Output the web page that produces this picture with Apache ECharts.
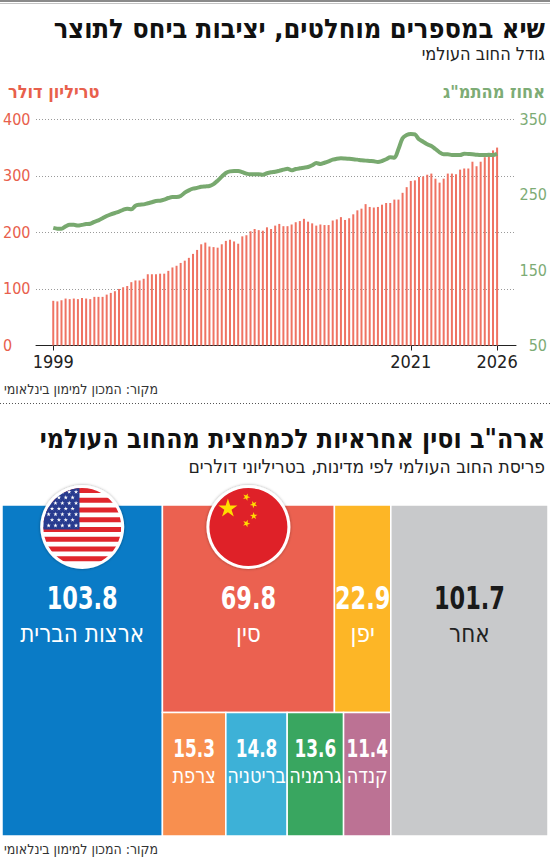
<!DOCTYPE html>
<html><head><meta charset="utf-8">
<script src="https://cdn.jsdelivr.net/npm/echarts@6/dist/echarts.min.js"></script>
<style>html,body{margin:0;padding:0;background:#fff}#c{width:550px;height:858px}</style>
</head><body><div id="c"></div>
<script>
// ---------- DATA ----------
const startYear = 1999;
const quarters = [];
for (let i = 0; i < 109; i++) quarters.push('Q' + (i % 4 + 1) + ' ' + (startYear + Math.floor(i / 4)));
// global debt, trillion USD (bars)
const debt = [79,78,80,83,82,83,82,84,83,82,86,86,86,90,93,96,100,103,105,112,
  115,115,118,126,126,126,127,127,132,138,141,146,150,155,162,169,179,182,175,174,
  173,179,185,187,184,180,193,195,202,206,204,203,209,206,212,215,211,211,214,218,
  220,224,219,216,212,214,213,213,221,223,227,222,225,232,239,242,250,245,244,245,
  249,252,252,258,258,270,280,291,292,298,299,302,304,295,288,295,304,304,303,311,
  313,313,325,317,325,333,338,345,350];
// debt as % of GDP (line)
const ratio = [206,205,205,208,210,210,209,210,211,211.5,214,216,218.7,221.7,224,225.7,227.5,230,231.4,230.6,
  235.4,236.7,237.2,238.6,240,241.6,242,243.4,245.6,247,247,248.3,252.7,255.8,258,259,260.5,261,261.5,264,
  268.6,274,278.8,281,281.4,281.4,280,277.9,277,277,277,276.5,278.4,279.7,280.5,281.8,283.2,284.5,282.3,284,
  285,285.8,286.7,289,292,290.7,292.4,294.3,296.4,297.8,298.3,298,297.6,297,296.5,295.6,295.2,294.7,294.3,293.4,
  294.7,297,299.6,299.1,310.6,324.8,329.2,330.5,330,323.4,320.3,316.8,314.6,310.6,306.2,303.6,303.6,302.6,302.6,302.6,
  304.4,304,303.6,303,302.6,302.6,303,302.6,304.4];
const xTickIdx = [0, 87, 108];
const xTickLabels = ['1999', '2021', '2026'];

const treeNames = ['ארצות הברית','סין','יפן','צרפת','בריטניה','גרמניה','קנדה','אחר'];
const treeValues = [103.8, 69.8, 22.9, 15.3, 14.8, 13.6, 11.4, 101.7];
// layout structure: columns -> rows -> item indices
const treeColumns = [[[0]], [[1, 2], [3, 4, 5, 6]], [[7]]];

// ---------- STYLE ----------
const treeColors = ['#0a7bc6','#eb6150','#fdb626','#f88f4f','#3db1d7','#39a660','#bc7294','#c8c9cb'];
const HEB = '"DejaVu Sans Condensed","DejaVu Sans",sans-serif';
const NUM = '"DejaVu Sans Condensed","DejaVu Sans",sans-serif';
const RED = '#e8604c', GREEN = '#7dac75';

// ---------- TREEMAP LAYOUT (slice & dice from values) ----------
const treeTotal = treeValues.reduce((a, b) => a + b, 0);
const treeItems = [];
let xc = 0;
treeColumns.forEach(col => {
  const colSum = col.flat().reduce((a, i) => a + treeValues[i], 0);
  let yc = 0;
  col.forEach(row => {
    const rowSum = row.reduce((a, i) => a + treeValues[i], 0);
    const h = rowSum / colSum;
    let xr = xc;
    row.forEach(i => {
      const w = treeValues[i] / rowSum * colSum;
      treeItems.push([xr, xr + w, yc, yc + h, treeValues[i], i]);
      xr += w;
    });
    yc += h;
  });
  xc += colSum;
});

function starPts(cx, cy, R, rot) {
  const pts = [], r = R * 0.382;
  for (let k = 0; k < 10; k++) {
    const a = -Math.PI / 2 + rot + k * Math.PI / 5;
    const rr = k % 2 ? r : R;
    pts.push([cx + rr * Math.cos(a), cy + rr * Math.sin(a)]);
  }
  return pts;
}
function ring(cx, cy, r) {
  return {type: 'circle', shape: {cx, cy, r: r + 3},
    style: {fill: '#fff', shadowBlur: 3, shadowColor: 'rgba(0,0,0,0.35)'}};
}
function usFlag(cx, cy, r) {
  const ch = [{type: 'rect', shape: {x: cx - r, y: cy - r, width: 2 * r, height: 2 * r}, style: {fill: '#fff'}}];
  const h = 2 * r / 16;
  for (let k = 0; k < 16; k += 2)
    ch.push({type: 'rect', shape: {x: cx - r, y: cy - r + k * h, width: 2 * r, height: h}, style: {fill: '#e0262d'}});
  const cw = 0.93 * r, chh = 8 * h + 0.5 * h;
  ch.push({type: 'rect', shape: {x: cx - r, y: cy - r, width: cw, height: chh}, style: {fill: '#283b8f'}});
  for (let row = 0; row < 7; row++) {
    const odd = row % 2;
    const n = odd ? 4 : 5;
    for (let c = 0; c < n; c++) {
      const sx = cx - r + 2 + (c + 0.5 + (odd ? 0.5 : 0)) * (cw - 2) / 5;
      const sy = cy - r + (row + 0.7) * chh / 7.4;
      ch.push({type: 'polygon', shape: {points: starPts(sx, sy, 2.3, 0)}, style: {fill: '#fff'}});
    }
  }
  return [ring(cx, cy, r), {type: 'group', clipPath: {type: 'circle', shape: {cx, cy, r}}, children: ch}];
}
function cnFlag(cx, cy, r) {
  const ch = [{type: 'circle', shape: {cx, cy, r}, style: {fill: '#df2128'}}];
  ch.push({type: 'polygon', shape: {points: starPts(cx - 20.5, cy - 18.5, 10, 0)}, style: {fill: '#ffdd00'}});
  [[-2, -30], [5.3, -22.5], [5.3, -11], [-2, -3.5]].forEach(o => {
    const a = Math.atan2(-18.5 - o[1], -20.5 - o[0]);
    ch.push({type: 'polygon', shape: {points: starPts(cx + o[0], cy + o[1], 3.9, a + Math.PI / 2)}, style: {fill: '#ffdd00'}});
  });
  return [ring(cx, cy, r), {type: 'group', children: ch}];
}

function stxt(text, x, y, font, fill, align, sx) {
  return {type: 'text', x, y, scaleX: sx || 1, silent: true,
    style: {text, x: 0, y: 0, font, fill,
      textAlign: align, textVerticalAlign: 'middle', align: align, verticalAlign: 'middle'}};
}

function renderTree(params, api) {
  const x0 = api.value(0), x1 = api.value(1), y0 = api.value(2), y1 = api.value(3);
  const val = api.value(4), idx = api.value(5);
  const p0 = api.coord([x0, y0]), p1 = api.coord([x1, y1]);
  const left = p0[0], top = p0[1], w = p1[0] - p0[0], h = p1[1] - p0[1];
  const cx = left + w / 2;
  const bottomRow = y0 > 0.001;
  const dark = idx === 7;
  const children = [{type: 'rect', shape: {x: left, y: top, width: w, height: h},
    style: {fill: treeColors[idx], stroke: '#fff', lineWidth: 1.5}}];
  const vy = top + (bottomRow ? 35 : 93);
  const ny = vy + (bottomRow ? 28 : 35);
  const vFont = bottomRow ? 'bold 25px ' + NUM : 'bold 32px ' + NUM;
  const nFont = bottomRow ? '22px ' + HEB : '25px ' + HEB;
  children.push(stxt(val.toFixed(1), cx, vy, vFont, dark ? '#1a1a1a' : '#fff', 'center', bottomRow ? 0.75 : 0.78));
  children.push(stxt(treeNames[idx], cx, ny, nFont, dark ? '#222' : '#fff', 'center', bottomRow ? 0.9 : 0.96));
  if (idx === 0) children.push(...usFlag(cx, top + 22, 39));
  if (idx === 1) children.push(...cnFlag(cx, top + 22, 39));
  return {type: 'group', children};
}

const chart = echarts.init(document.getElementById('c'), null, {renderer: 'svg'});
chart.setOption({
  animation: false,
  backgroundColor: '#fff',
  grid: [
    {left: 35, right: 32, top: 119.3, bottom: 512.5},
    {left: 2, right: 2, top: 505, bottom: 22}
  ],
  xAxis: [
    {gridIndex: 0, type: 'value', min: -4.2, max: 112.6,
      axisLine: {show: true, lineStyle: {color: '#222', width: 1}},
      axisTick: {show: true, customValues: xTickIdx, length: 5, lineStyle: {color: '#222'}},
      axisLabel: {customValues: xTickIdx, formatter: v => xTickLabels[xTickIdx.indexOf(v)] || '',
        color: '#222', fontSize: 18, fontFamily: NUM, margin: 7},
      splitLine: {show: false}},
    {gridIndex: 1, type: 'value', min: 0, max: treeTotal, show: false}
  ],
  yAxis: [
    {gridIndex: 0, type: 'value', min: 0, max: 400, interval: 100,
      axisLabel: {color: RED, fontSize: 16, fontFamily: NUM, align: 'left', margin: 33},
      splitLine: {lineStyle: {type: [1, 2], color: '#9a9a9a', width: 1}},
      axisLine: {show: false}, axisTick: {show: false}},
    {gridIndex: 0, type: 'value', position: 'right', min: 50, max: 350, interval: 100,
      axisLabel: {color: GREEN, fontSize: 16, fontFamily: NUM, align: 'right', margin: 31},
      splitLine: {show: false}, axisLine: {show: false}, axisTick: {show: false}},
    {gridIndex: 1, type: 'value', min: 0, max: 1, inverse: true, show: false}
  ],
  series: [
    {type: 'bar', xAxisIndex: 0, yAxisIndex: 0, data: debt.map((v, i) => [i, v]),
      barWidth: 2, itemStyle: {color: '#ef7363'}, z: 2},
    {type: 'line', xAxisIndex: 0, yAxisIndex: 1, data: ratio.map((v, i) => [i, v]),
      symbol: 'none', smooth: 0.3, lineStyle: {width: 4, color: '#78a96f'}, z: 3},
    {type: 'custom', xAxisIndex: 1, yAxisIndex: 2, data: treeItems, renderItem: renderTree, clip: false, z: 5}
  ],
  graphic: [
    {type: 'rect', shape: {x: 0, y: 0, width: 550, height: 2}, style: {fill: '#8a8a8a'}},
    {type: 'rect', shape: {x: 0, y: 3, width: 550, height: 1}, style: {fill: '#c4c4c4'}},
    stxt('שיא במספרים מוחלטים, יציבות ביחס לתוצר', 545, 28, 'bold 27px ' + HEB, '#111', 'right'),
    stxt('גודל החוב העולמי', 545, 53, '18px ' + HEB, '#222', 'right'),
    stxt('טריליון דולר', 8, 91, 'bold 18px ' + HEB, RED, 'left'),
    stxt('אחוז מהתמ"ג', 545, 91, 'bold 18px ' + HEB, GREEN, 'right'),
    stxt('מקור: המכון למימון בינלאומי', 4, 389, '14px ' + HEB, '#333', 'left'),
    {type: 'line', shape: {x1: 0, y1: 403.5, x2: 550, y2: 403.5}, style: {stroke: '#555', lineWidth: 1, lineDash: [1, 2]}},
    stxt('ארה"ב וסין אחראיות לכמחצית מהחוב העולמי', 545, 438, 'bold 26.5px ' + HEB, '#111', 'right'),
    stxt('פריסת החוב העולמי לפי מדינות, בטריליוני דולרים', 545, 466, '19px ' + HEB, '#222', 'right'),
    stxt('מקור: המכון למימון בינלאומי', 4, 849, '14px ' + HEB, '#333', 'left')
  ]
});
</script></body></html>
